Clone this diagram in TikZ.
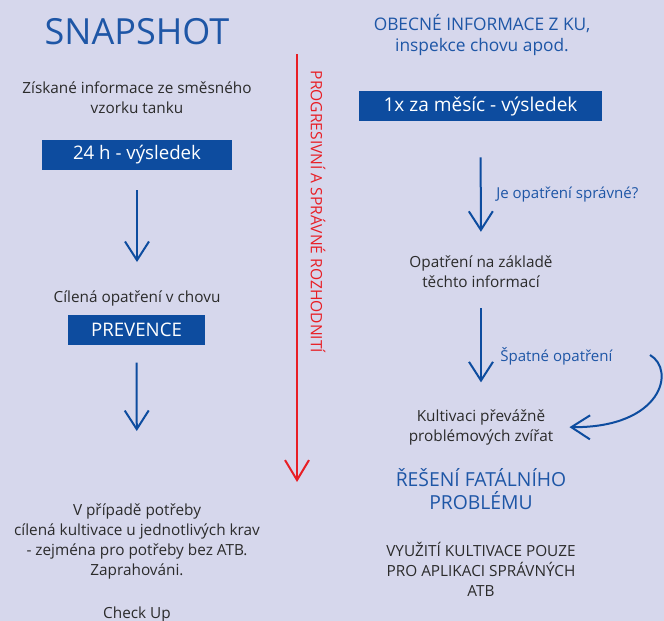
\documentclass[tikz,border=0pt]{standalone}
\usepackage{fontspec}
\setmainfont{Open Sans}
\usetikzlibrary{arrows.meta}
\definecolor{bglav}{RGB}{214,215,236}
\definecolor{boxblue}{RGB}{13,76,159}
\definecolor{txtblue}{RGB}{30,86,166}
\definecolor{txtdark}{RGB}{43,43,43}
\definecolor{redline}{RGB}{232,30,37}
\begin{document}
\begin{tikzpicture}[x=0.75pt, y=-0.75pt,
    dark/.style={text=txtdark, align=center, font=\fontsize{11.5}{15}\selectfont, inner sep=0pt},
    bluetext/.style={text=txtblue, align=center, inner sep=0pt},
    steplabel/.style={bluetext, anchor=west, font=\fontsize{11.3}{13}\selectfont},
    resultbox/.style={fill=boxblue, text=white, minimum height=22.5pt, inner sep=0pt, font=\fontsize{14}{16}\selectfont},
    arr/.style={draw=boxblue, line width=1.5pt, -{Straight Barb[length=14pt,width=18pt,line width=1.5pt]}},
    redarr/.style={draw=redline, line width=1.5pt, -{Straight Barb[length=15pt,width=18pt,line width=1.5pt]}}]
    % Background
    \fill[bglav] (0,0) rectangle (664,621);
    \useasboundingbox (0,0) rectangle (664,621);

    % Left column: snapshot
    \node[bluetext, font=\fontsize{27}{30}\selectfont] (snap) at (137,32) {SNAPSHOT};
    \node[dark] (ziskane) at (137,98) {Získané informace ze směsného\\vzorku tanku};
    \node[resultbox, minimum width=142.5pt] (box24) at (137,155) {24 h - výsledek};
    \node[dark] (cilena) at (137,298) {Cílená opatření v chovu};
    \node[resultbox, minimum width=102.75pt] (prevence) at (136.5,330) {PREVENCE};
    \node[dark] (potreby) at (137,541) {V případě potřeby\\cílená kultivace u jednotlivých krav\\- zejména pro potřeby bez ATB.\\Zaprahováni.};
    \node[dark] (checkup) at (137,615) {Check Up};

    \draw[arr, shorten <=15pt, shorten >=21pt] (box24.south) -- (cilena.north);
    \draw[arr, shorten <=13pt, shorten >=54pt] (prevence.south) -- (potreby.north);

    % Middle: red arrow with rotated label
    \coordinate (redtop) at (297,54);
    \coordinate (redbot) at (297,482);
    \draw[redarr] (redtop) -- (redbot);
    \node[text=redline, rotate=-90, inner sep=0pt, font=\fontsize{11.7}{14}\selectfont] (progres) at (318,212) {PROGRESIVNÍ A SPRÁVNÉ ROZHODNITÍ};

    % Right column: monthly result
    \node[bluetext, font=\fontsize{13}{16}\selectfont] (obecne) at (482,35) {OBECNÉ INFORMACE Z KU,\\inspekce chovu apod.};
    \node[resultbox, minimum width=182.25pt, font=\fontsize{14.3}{16}\selectfont] (box1x) at (480.5,106) {1x za měsíc - výsledek};
    \node[dark] (opatreni) at (481,272) {Opatření na základě\\těchto informací};
    \node[dark] (kultivaci) at (481,427) {Kultivaci převážně\\problémových zvířat};
    \node[bluetext, font=\fontsize{14.5}{17.5}\selectfont] (reseni) at (481,489) {ŘEŠENÍ FATÁLNÍHO\\PROBLÉMU};
    \node[dark] (vyuziti) at (481,569) {VYUŽITÍ KULTIVACE POUZE\\PRO APLIKACI SPRÁVNÝCH\\ATB};

    \draw[arr, shorten <=27pt, shorten >=18pt] (box1x.south) -- (opatreni.north);
    \node[steplabel] (jespravne) at (496,195) {Je opatření správné?};
    \draw[arr, shorten <=15pt, shorten >=20pt] (opatreni.south) -- (kultivaci.north);
    \node[steplabel] (spatne) at (500,356) {Špatné opatření};

    % Curved arrow back to cultivation
    \coordinate (curvestart) at (650,355);
    \draw[arr, shorten >=12pt] (curvestart) .. controls (676,370) and (662,428) .. (kultivaci.east);
\end{tikzpicture}
\end{document}
